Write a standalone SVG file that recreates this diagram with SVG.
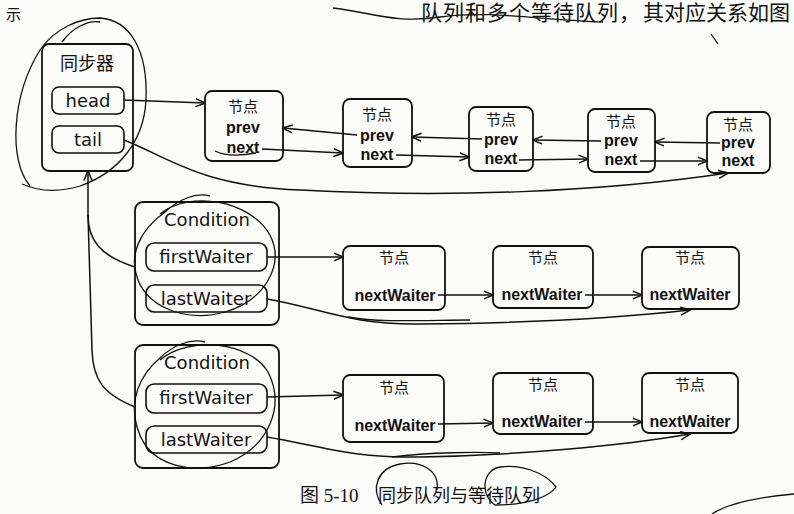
<svg xmlns="http://www.w3.org/2000/svg" width="794" height="514" viewBox="0 0 794 514">
<defs>
<marker id="arr" viewBox="0 0 10 10" refX="9.5" refY="5" markerWidth="10" markerHeight="10" markerUnits="userSpaceOnUse" orient="auto">
<path d="M0,1 L10,5 L0,9" fill="none" stroke="#111" stroke-width="1.5"/>
</marker>
<style>
.box{fill:none;stroke:#111;stroke-width:1.8}
.fld{fill:none;stroke:#111;stroke-width:1.6}
.lbl{font-family:"DejaVu Sans","Noto Sans CJK SC",sans-serif;font-size:18px;fill:#111;text-anchor:middle}
.cjk{font-family:"Noto Sans CJK SC",sans-serif;font-size:15px;fill:#111;text-anchor:middle}
.bold{font-family:"Liberation Sans",Arial,sans-serif;font-weight:bold;font-size:16px;fill:#111;text-anchor:middle}
.serif{font-family:"Liberation Serif","Noto Sans CJK SC",serif;fill:#111}
.ln{fill:none;stroke:#111;stroke-width:1.5}
.pen{fill:none;stroke:#111;stroke-width:1.3}
</style>
</defs>
<rect width="794" height="514" fill="#fbfbf9"/>

<g id="page-text">
<text class="serif" x="6" y="20" font-size="15">示</text>
<text class="serif" x="421" y="20" font-size="21" letter-spacing="1">队列和多个等待队列，</text>
<text class="serif" x="643" y="20" font-size="21">其对应关系如图</text>
<text class="serif" x="300" y="502" font-size="19">图 5-10</text>
<text class="serif" x="378" y="502" font-size="18">同步队列与等待队列</text>
</g>

<g id="sync">
<rect class="box" x="42" y="44" width="91" height="127" rx="7"/>
<text class="lbl" x="87" y="70" font-size="17">同步器</text>
<rect class="fld" x="52" y="87" width="72" height="27" rx="7"/>
<text class="lbl" x="88" y="107">head</text>
<rect class="fld" x="52" y="126" width="72" height="27" rx="7"/>
<text class="lbl" x="88" y="146">tail</text>
</g>

<g id="n1"><rect class="box" x="205" y="91" width="78" height="70" rx="7"/>
<text class="cjk" x="243" y="112">节点</text><text class="bold" x="243" y="133" font-size="17">prev</text><text class="bold" x="243" y="153" font-size="17">next</text></g>
<g id="n2"><rect class="box" x="343" y="99" width="69" height="68" rx="7"/>
<text class="cjk" x="377" y="120">节点</text><text class="bold" x="377" y="141">prev</text><text class="bold" x="377" y="160">next</text></g>
<g id="n3"><rect class="box" x="469" y="107" width="64" height="64" rx="7"/>
<text class="cjk" x="501" y="125">节点</text><text class="bold" x="501" y="145">prev</text><text class="bold" x="501" y="164">next</text></g>
<g id="n4"><rect class="box" x="588" y="109" width="67" height="63" rx="7"/>
<text class="cjk" x="621" y="127">节点</text><text class="bold" x="621" y="146">prev</text><text class="bold" x="621" y="165">next</text></g>
<g id="n5"><rect class="box" x="707" y="112" width="63" height="61" rx="7"/>
<text class="cjk" x="738" y="130">节点</text><text class="bold" x="738" y="148">prev</text><text class="bold" x="738" y="166">next</text></g>

<g id="cond1">
<rect class="box" x="135" y="202" width="144" height="123" rx="8"/>
<text class="lbl" x="207" y="226">Condition</text>
<rect class="fld" x="146" y="243" width="121" height="28" rx="8"/>
<text class="lbl" x="206" y="263" font-size="17">firstWaiter</text>
<rect class="fld" x="146" y="285" width="121" height="27" rx="8"/>
<text class="lbl" x="206" y="305" font-size="17">lastWaiter</text>
</g>
<g id="cond2">
<rect class="box" x="135" y="345" width="144" height="123" rx="8"/>
<text class="lbl" x="207" y="369">Condition</text>
<rect class="fld" x="146" y="384" width="121" height="29" rx="8"/>
<text class="lbl" x="206" y="404" font-size="17">firstWaiter</text>
<rect class="fld" x="146" y="426" width="121" height="27" rx="8"/>
<text class="lbl" x="206" y="446" font-size="17">lastWaiter</text>
</g>

<g id="w1"><rect class="box" x="343" y="246" width="102" height="64" rx="7"/>
<text class="cjk" x="394" y="263">节点</text><text class="bold" x="395" y="301">nextWaiter</text></g>
<g id="w2"><rect class="box" x="493" y="246" width="100" height="62" rx="7"/>
<text class="cjk" x="543" y="263">节点</text><text class="bold" x="542" y="300">nextWaiter</text></g>
<g id="w3"><rect class="box" x="642" y="247" width="97" height="62" rx="7"/>
<text class="cjk" x="690" y="263">节点</text><text class="bold" x="690" y="300">nextWaiter</text></g>
<g id="w4"><rect class="box" x="343" y="375" width="101" height="67" rx="7"/>
<text class="cjk" x="394" y="393">节点</text><text class="bold" x="395" y="431">nextWaiter</text></g>
<g id="w5"><rect class="box" x="493" y="373" width="100" height="61" rx="7"/>
<text class="cjk" x="543" y="390">节点</text><text class="bold" x="542" y="427">nextWaiter</text></g>
<g id="w6"><rect class="box" x="642" y="373" width="96" height="60" rx="7"/>
<text class="cjk" x="690" y="390">节点</text><text class="bold" x="690" y="427">nextWaiter</text></g>

<g id="connectors">
<path class="ln" d="M124,100 L205,103" marker-end="url(#arr)"/>
<path class="ln" d="M262,149 L343,153" marker-end="url(#arr)"/>
<path class="ln" d="M357,135 L283,128" marker-end="url(#arr)"/>
<path class="ln" d="M396,155 L469,157" marker-end="url(#arr)"/>
<path class="ln" d="M482,139 L412,137" marker-end="url(#arr)"/>
<path class="ln" d="M519,160 L588,159" marker-end="url(#arr)"/>
<path class="ln" d="M601,141 L533,140" marker-end="url(#arr)"/>
<path class="ln" d="M640,161 L707,161" marker-end="url(#arr)"/>
<path class="ln" d="M720,143 L655,142" marker-end="url(#arr)"/>
<path class="ln" d="M124,140 C170,158 200,186 300,190 C450,198 600,192 728,173" marker-end="url(#arr)"/>

<path class="ln" d="M267,257 L343,257" marker-end="url(#arr)"/>
<path class="ln" d="M438,295 L493,295" marker-end="url(#arr)"/>
<path class="ln" d="M585,295 L642,295" marker-end="url(#arr)"/>
<path class="ln" d="M267,299 C320,308 350,325 420,324 C520,323 620,318 690,310" marker-end="url(#arr)"/>

<path class="ln" d="M267,397 L343,395" marker-end="url(#arr)"/>
<path class="ln" d="M438,424 L493,423" marker-end="url(#arr)"/>
<path class="ln" d="M585,422 L642,422" marker-end="url(#arr)"/>
<path class="ln" d="M267,437 C320,446 350,458 420,457 C520,455 620,446 690,434" marker-end="url(#arr)"/>

<path class="ln" d="M135,267 C100,256 88,240 88,215 L88,171" marker-end="url(#arr)"/>
<path class="ln" d="M135,407 C103,394 93,380 92,350 L88,215"/>
</g>

<g id="pen-marks">
<path class="pen" d="M30,186 C8,160 12,95 40,50 C55,28 80,18 100,18 C130,20 148,50 146,100 C144,140 120,172 80,186 C60,192 40,192 22,184"/>
<path class="pen" d="M62,42 C72,28 88,20 100,22"/>
<path class="pen" d="M160,214 C190,190 250,200 270,235 C285,265 265,300 225,312 C190,322 150,310 138,280 C128,255 140,230 165,212 C178,200 195,192 210,196"/>
<path class="pen" d="M160,360 C190,335 250,342 268,372 C285,405 270,445 230,462 C195,475 150,468 138,430 C128,400 140,375 160,358 C172,346 190,338 205,342"/>
<path class="pen" d="M333,8 C370,12 395,24 440,17 C490,10 540,20 603,22"/>
<path class="pen" d="M711,34 L718,44"/>
<path class="pen" d="M215,151 C225,156 240,156 256,153"/>
<path class="pen" d="M348,317 C380,323 430,320 470,320"/>
<path class="pen" d="M382,505 C370,488 378,468 400,464 C420,460 440,470 437,490"/>
<path class="pen" d="M392,457 C430,452 480,452 500,453"/>
<path class="pen" d="M495,505 C480,495 482,470 500,467 C520,464 545,472 556,487 C550,496 530,505 495,505"/>
<path class="pen" d="M712,514 C730,502 760,497 794,494"/>
</g>
</svg>
